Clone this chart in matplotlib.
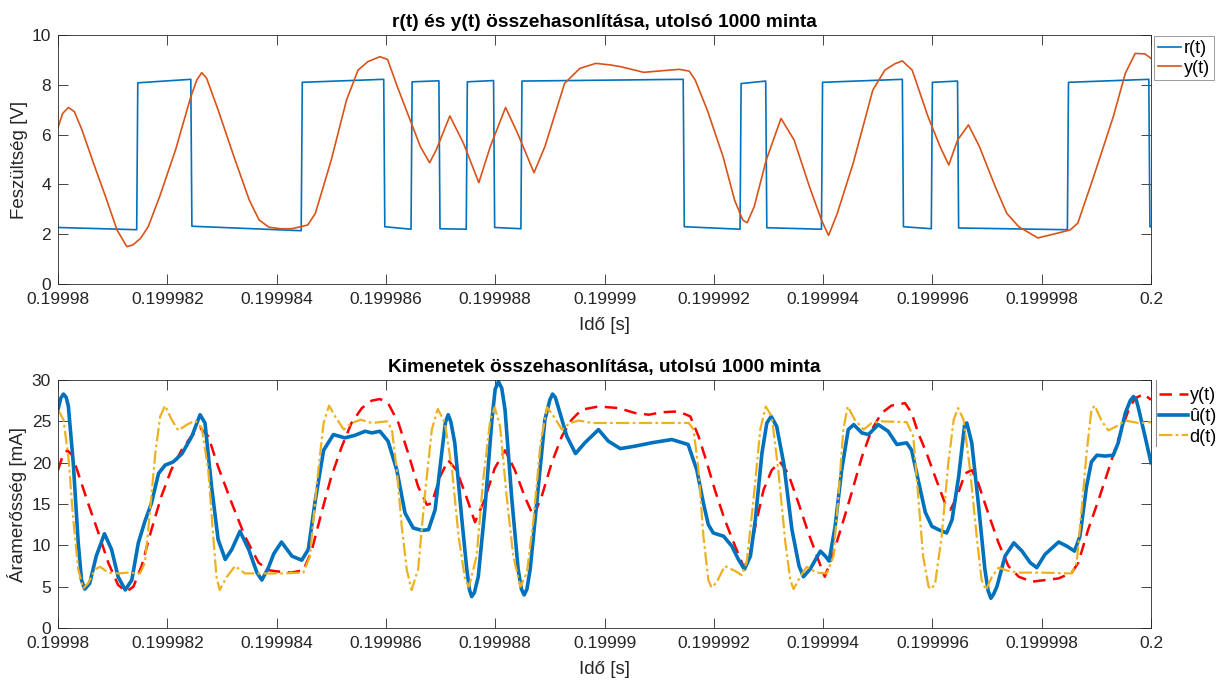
import numpy as np
import matplotlib
matplotlib.use("Agg")
import matplotlib.pyplot as plt
from matplotlib.lines import Line2D

plt.rcParams['font.family'] = ['Liberation Sans', 'DejaVu Sans']

# =========================
# DATA (time in microseconds after 0.19998 s)
# =========================
t0 = 0.19998

# top: reference r(t), square wave [V]
r_t = [0, 1.44, 1.46, 2.43, 2.45, 4.45, 4.47, 5.96, 5.98, 6.46,
       6.48, 6.97, 6.99, 7.47, 7.49, 7.97, 7.99, 8.47, 8.49, 11.44,
       11.46, 12.48, 12.50, 12.95, 12.97, 13.97, 13.99, 15.45, 15.47, 15.98,
       16.00, 16.46, 16.48, 18.47, 18.49, 19.96, 19.98, 20.0]
r_v = [2.27, 2.18, 8.08, 8.22, 2.32, 2.14, 8.1, 8.22, 2.3, 2.2,
       8.12, 8.16, 2.22, 2.2, 8.12, 8.17, 2.27, 2.22, 8.15, 8.22,
       2.3, 2.2, 8.05, 8.15, 2.26, 2.2, 8.1, 8.22, 2.3, 2.22,
       8.1, 8.15, 2.25, 2.18, 8.1, 8.22, 2.3, 2.3]

# top: measured y(t) [V]
yv_t = [0, 0.085, 0.19, 0.30, 0.44, 0.65, 0.87, 1.08, 1.26, 1.37,
        1.51, 1.65, 1.86, 2.15, 2.43, 2.54, 2.63, 2.72, 2.93, 3.22,
        3.50, 3.68, 3.86, 4.07, 4.28, 4.57, 4.71, 5.00, 5.28, 5.49,
        5.67, 5.89, 6.03, 6.21, 6.42, 6.63, 6.80, 6.92, 7.17, 7.42,
        7.70, 7.91, 8.19, 8.41, 8.71, 8.91, 9.27, 9.55, 9.84, 10.10,
        10.29, 10.72, 11.08, 11.37, 11.55, 11.66, 11.88, 12.17, 12.38, 12.53,
        12.61, 12.74, 12.96, 13.23, 13.47, 13.75, 13.97, 14.10, 14.26, 14.55,
        14.91, 15.13, 15.31, 15.45, 15.63, 15.92, 16.14, 16.30, 16.46, 16.66,
        16.86, 17.15, 17.36, 17.58, 17.93, 18.23, 18.52, 18.66, 18.95, 19.31,
        19.53, 19.71, 19.89, 20.0]
yv_v = [6.28, 6.85, 7.09, 6.92, 6.18, 4.85, 3.51, 2.17, 1.50, 1.57,
        1.83, 2.30, 3.51, 5.38, 7.52, 8.19, 8.49, 8.26, 6.99, 5.11,
        3.37, 2.57, 2.28, 2.22, 2.22, 2.37, 2.84, 4.98, 7.39, 8.59,
        8.93, 9.13, 9.02, 7.92, 6.72, 5.52, 4.87, 5.38, 6.75, 5.65,
        4.07, 5.52, 7.09, 6.05, 4.47, 5.52, 8.06, 8.66, 8.86, 8.80,
        8.73, 8.50, 8.57, 8.62, 8.55, 8.19, 6.99, 5.11, 3.37, 2.57,
        2.46, 3.11, 4.98, 6.65, 5.78, 3.91, 2.57, 1.95, 2.84, 4.85,
        7.79, 8.59, 8.84, 8.96, 8.59, 6.72, 5.52, 4.78, 5.78, 6.39,
        5.52, 3.91, 2.84, 2.30, 1.85, 2.01, 2.17, 2.44, 4.31, 6.72,
        8.46, 9.26, 9.24, 9.06]

# bottom: y(t) [mA]
ya_t = [0, 0.08, 0.17, 0.26, 0.37, 0.55, 0.74, 0.92, 1.10, 1.25,
        1.38, 1.53, 1.71, 1.89, 2.07, 2.26, 2.44, 2.60, 2.75, 2.93,
        3.18, 3.42, 3.67, 3.85, 4.00, 4.27, 4.49, 4.64, 4.82, 5.00,
        5.19, 5.37, 5.56, 5.74, 5.89, 6.04, 6.23, 6.41, 6.59, 6.75,
        6.84, 6.99, 7.14, 7.29, 7.45, 7.63, 7.81, 7.99, 8.18, 8.36,
        8.54, 8.70, 8.85, 9.03, 9.22, 9.40, 9.58, 9.89, 10.26, 10.56,
        10.81, 11.05, 11.35, 11.57, 11.72, 11.84, 12.02, 12.20, 12.39, 12.54,
        12.63, 12.76, 12.91, 13.06, 13.21, 13.36, 13.55, 13.73, 13.91, 14.03,
        14.15, 14.34, 14.52, 14.71, 14.89, 15.07, 15.25, 15.50, 15.62, 15.74,
        15.89, 16.05, 16.23, 16.33, 16.45, 16.60, 16.72, 16.84, 17.02, 17.21,
        17.39, 17.58, 17.82, 18.06, 18.31, 18.55, 18.67, 18.85, 19.04, 19.22,
        19.40, 19.59, 19.71, 19.87, 20.0]
ya_v = [19.1, 20.7, 21.5, 20.9, 18.7, 15.1, 11.5, 7.9, 5.2, 4.4,
        5.0, 7.5, 11.9, 15.9, 19.1, 21.5, 23.2, 24.2, 23.2, 19.5,
        15.1, 11.1, 7.9, 7.0, 6.85, 6.7, 7.0, 9.3, 13.9, 18.3,
        21.9, 24.8, 26.6, 27.5, 27.7, 27.2, 24.8, 21.1, 17.1, 14.9,
        15.1, 18.3, 20.3, 19.1, 16.3, 12.8, 15.6, 19.3, 21.5, 19.1,
        15.9, 13.5, 15.9, 19.9, 23.2, 25.2, 26.4, 26.8, 26.6, 26.0,
        25.8, 26.1, 26.2, 25.6, 23.2, 20.7, 16.7, 13.1, 9.9, 7.5,
        7.9, 12.3, 16.7, 19.1, 20.1, 18.7, 15.1, 11.5, 8.3, 6.2,
        8.3, 12.3, 16.3, 20.7, 24.0, 26.0, 26.9, 27.2, 26.0, 23.6,
        21.2, 18.3, 15.1, 14.3, 15.9, 18.7, 19.1, 17.5, 13.9, 10.3,
        7.5, 6.2, 5.6, 5.8, 6.0, 6.7, 7.9, 11.9, 15.5, 19.1,
        22.8, 26.4, 27.8, 28.3, 27.6]

# bottom: estimated u-hat(t) [mA]
u_t = [0, 0.05, 0.10, 0.15, 0.19, 0.28, 0.37, 0.43, 0.49, 0.58,
       0.70, 0.85, 0.98, 1.10, 1.23, 1.35, 1.47, 1.59, 1.71, 1.84,
       1.96, 2.11, 2.27, 2.45, 2.60, 2.69, 2.81, 2.93, 3.06, 3.18,
       3.33, 3.49, 3.64, 3.73, 3.85, 3.95, 4.09, 4.28, 4.46, 4.58,
       4.70, 4.86, 5.04, 5.25, 5.43, 5.62, 5.74, 5.89, 6.04, 6.20,
       6.35, 6.50, 6.66, 6.78, 6.90, 7.02, 7.09, 7.14, 7.19, 7.26,
       7.39, 7.48, 7.53, 7.57, 7.62, 7.69, 7.81, 7.94, 8.00, 8.06,
       8.12, 8.18, 8.30, 8.42, 8.48, 8.53, 8.58, 8.64, 8.79, 8.91,
       9.00, 9.05, 9.10, 9.15, 9.31, 9.47, 9.64, 9.89, 10.07, 10.29,
       10.56, 10.86, 11.23, 11.53, 11.69, 11.81, 11.90, 11.99, 12.18, 12.33,
       12.45, 12.56, 12.67, 12.76, 12.88, 12.97, 13.05, 13.15, 13.28, 13.43,
       13.56, 13.64, 13.76, 13.95, 14.04, 14.11, 14.22, 14.34, 14.46, 14.56,
       14.71, 14.83, 15.01, 15.19, 15.35, 15.53, 15.62, 15.74, 15.87, 15.99,
       16.11, 16.26, 16.36, 16.48, 16.59, 16.63, 16.72, 16.84, 16.96, 17.02,
       17.07, 17.12, 17.18, 17.33, 17.49, 17.64, 17.79, 17.91, 18.06, 18.31,
       18.46, 18.60, 18.70, 18.82, 18.91, 19.01, 19.16, 19.31, 19.40, 19.53,
       19.62, 19.68, 19.73, 19.77, 19.89, 20.0]
u_v = [26.4, 27.8, 28.3, 27.9, 26.8, 19.9, 10.3, 5.8, 4.7, 5.4,
       8.7, 11.4, 9.5, 6.2, 4.6, 5.8, 10.3, 12.9, 15.1, 18.7,
       19.7, 20.1, 21.1, 23.2, 25.8, 24.8, 17.1, 10.7, 8.3, 9.5,
       11.7, 9.5, 6.7, 5.8, 7.3, 9.0, 10.4, 8.7, 8.2, 9.5,
       15.1, 21.5, 23.4, 23.0, 23.3, 23.8, 23.6, 23.8, 22.6, 19.1,
       13.9, 12.1, 11.8, 11.9, 14.3, 21.1, 24.9, 25.8, 24.9, 22.4,
       13.1, 7.1, 4.6, 3.8, 4.3, 6.2, 14.3, 25.2, 28.9, 29.8,
       29.0, 26.4, 15.9, 7.1, 4.7, 4.0, 4.7, 7.1, 17.1, 25.2,
       27.6, 28.3, 27.9, 26.8, 23.2, 21.1, 22.4, 24.0, 22.6, 21.7,
       22.0, 22.4, 22.8, 22.2, 19.1, 15.1, 12.5, 11.5, 11.1, 9.9,
       8.3, 7.1, 8.7, 13.1, 21.1, 24.8, 25.6, 24.4, 19.9, 11.9,
       7.5, 6.2, 7.1, 9.3, 8.7, 8.1, 12.3, 19.1, 24.0, 24.6,
       23.6, 23.4, 24.6, 23.8, 22.2, 22.4, 21.5, 17.9, 14.0, 12.3,
       11.9, 11.5, 13.1, 18.3, 24.6, 24.8, 22.4, 15.1, 7.1, 4.5,
       3.6, 4.1, 5.0, 8.7, 10.3, 9.3, 7.9, 7.3, 8.9, 10.4,
       9.9, 9.3, 11.1, 17.1, 20.1, 20.9, 20.8, 20.9, 22.4, 26.0,
       27.5, 28.0, 27.6, 26.6, 23.2, 20.0]

# bottom: d(t) [mA]
d_t = [0, 0.10, 0.19, 0.28, 0.37, 0.46, 0.55, 0.68, 0.77, 0.92,
       1.10, 1.28, 1.50, 1.59, 1.68, 1.78, 1.87, 1.96, 2.08, 2.20,
       2.36, 2.51, 2.63, 2.75, 2.84, 2.90, 2.96, 3.09, 3.24, 3.42,
       3.67, 4.09, 4.49, 4.61, 4.73, 4.86, 4.96, 5.07, 5.23, 5.38,
       5.54, 5.74, 6.02, 6.11, 6.20, 6.29, 6.38, 6.47, 6.59, 6.71,
       6.84, 6.95, 7.08, 7.21, 7.33, 7.45, 7.52, 7.66, 7.78, 7.91,
       7.99, 8.09, 8.21, 8.33, 8.46, 8.58, 8.70, 8.83, 8.95, 9.07,
       9.22, 9.37, 9.53, 9.77, 10.26, 10.86, 11.54, 11.63, 11.72, 11.81,
       11.90, 11.96, 12.05, 12.20, 12.39, 12.51, 12.60, 12.72, 12.85, 12.95,
       13.06, 13.18, 13.31, 13.40, 13.46, 13.58, 13.70, 13.88, 14.07, 14.19,
       14.28, 14.37, 14.45, 14.58, 14.74, 14.89, 15.07, 15.53, 15.65, 15.74,
       15.83, 15.93, 15.98, 16.05, 16.17, 16.29, 16.39, 16.47, 16.57, 16.69,
       16.81, 16.90, 16.98, 17.09, 17.21, 17.39, 17.58, 18.00, 18.55, 18.64,
       18.73, 18.82, 18.91, 18.97, 19.10, 19.22, 19.37, 19.53, 19.77, 20.0]
d_v = [26.4, 25.2, 20.7, 13.1, 7.1, 4.8, 5.4, 7.1, 7.4, 6.7,
       6.6, 6.7, 6.6, 7.9, 13.9, 21.1, 25.6, 26.9, 25.2, 23.9,
       24.6, 25.1, 24.2, 19.1, 11.1, 6.2, 4.6, 6.2, 7.5, 6.6,
       6.6, 6.6, 6.7, 8.7, 17.1, 24.8, 26.9, 25.6, 24.0, 24.8,
       25.2, 24.8, 25.0, 24.0, 19.1, 12.3, 7.1, 4.6, 7.1, 15.9,
       24.0, 26.5, 24.8, 19.1, 11.1, 5.8, 5.0, 8.7, 17.9, 25.2,
       26.7, 24.4, 15.9, 8.7, 5.0, 6.7, 13.1, 22.4, 26.7, 25.6,
       24.0, 24.8, 25.1, 24.8, 24.8, 24.8, 24.8, 24.0, 19.1, 11.1,
       5.8, 4.9, 5.5, 7.5, 6.9, 6.4, 7.9, 15.1, 24.0, 26.8,
       25.6, 19.1, 10.3, 5.8, 4.7, 6.2, 7.4, 6.7, 6.6, 8.7,
       15.9, 24.0, 26.8, 25.2, 24.0, 24.8, 25.0, 24.9, 23.2, 15.9,
       8.7, 5.0, 4.7, 5.4, 11.1, 19.9, 25.2, 26.6, 25.2, 19.1,
       11.1, 5.8, 4.6, 6.2, 7.3, 6.9, 6.7, 6.7, 6.6, 7.9,
       14.3, 21.1, 26.4, 26.9, 25.0, 23.9, 24.4, 25.1, 24.8, 24.9]

tick_labels = ['0.19998', '0.199982', '0.199984', '0.199986', '0.199988', '0.19999',
               '0.199992', '0.199994', '0.199996', '0.199998', '0.2']


def sec(t_us):
    return t0 + np.array(t_us) * 1e-6


# =========================
# FIGURE
# =========================
W, H = 1219, 680
fig = plt.figure(figsize=(W / 100, H / 100), dpi=100)
ax1 = fig.add_axes([58 / W, 1 - 284 / H, (1151 - 58) / W, (284 - 35) / H])
ax2 = fig.add_axes([58 / W, 1 - 628 / H, (1151 - 58) / W, (628 - 380) / H])

axc = '#262626'
xticks = t0 + np.arange(len(tick_labels)) * 2e-6


def style(ax):
    ax.set_xlim(t0, 0.2)
    ax.set_xticks(xticks)
    ax.set_xticklabels(tick_labels)
    ax.tick_params(direction='in', top=True, right=True, length=7, width=0.6,
                   colors=axc, labelsize=12.5)
    ax.tick_params(axis='x', pad=6)
    ax.tick_params(axis='y', pad=5)
    for s in ax.spines.values():
        s.set_color(axc)
        s.set_linewidth(0.6)


kw = dict(solid_joinstyle='round', dash_joinstyle='round')

# top plot
ax1.plot(sec(r_t), r_v, color='#0072BD', lw=1.2, label='r(t)', **kw)
ax1.plot(sec(yv_t), yv_v, color='#D95319', lw=1.2, label='y(t)', **kw)
style(ax1)
ax1.set_ylim(0, 10)
ax1.set_yticks([0, 2, 4, 6, 8, 10])
ax1.set_title('r(t) és y(t) összehasonlítása, utolsó 1000 minta',
              fontsize=13.8, fontweight='bold', pad=6)
ax1.set_ylabel('Feszültség [V]', fontsize=13.5, color=axc, labelpad=3)
ax1.set_xlabel('Idő [s]', fontsize=13.5, color=axc, labelpad=7)
leg1 = ax1.legend(loc='upper left', bbox_to_anchor=(1.003, 0.995), borderaxespad=0,
                  fontsize=13, handlelength=1.3, handletextpad=0.15,
                  borderpad=0.2, labelspacing=0.15, fancybox=False, framealpha=1)
leg1.get_frame().set_edgecolor('#8c8c8c')
leg1.get_frame().set_linewidth(0.6)

# bottom plot
ax2.plot(sec(ya_t), ya_v, color='#FF0000', lw=1.8, dashes=(5, 3), label='y(t)', **kw)
ax2.plot(sec(u_t), u_v, color='#0072BD', lw=2.6, label='û(t)', **kw)
ax2.plot(sec(d_t), d_v, color='#EDB120', lw=1.6, dashes=(6, 1.5, 1.2, 1.5), label='d(t)', **kw)
style(ax2)
ax2.set_ylim(0, 30)
ax2.set_yticks([0, 5, 10, 15, 20, 25, 30])
ax2.set_title('Kimenetek összehasonlítása, utolsú 1000 minta',
              fontsize=13.8, fontweight='bold', pad=6)
ax2.set_ylabel('Áramerősség [mA]', fontsize=13.5, color=axc, labelpad=3)
ax2.set_xlabel('Idő [s]', fontsize=13.5, color=axc, labelpad=7)
leg2 = ax2.legend(loc='upper left', bbox_to_anchor=(1.004, 0.985), borderaxespad=0,
                  fontsize=13, handlelength=1.6, handletextpad=0.1,
                  borderpad=0.2, labelspacing=0.2, frameon=False)
fig.add_artist(Line2D([1156 / W, 1156 / W], [1 - 380 / H, 1 - 446 / H],
                      color='#8c8c8c', lw=0.8))

fig.savefig('out.png', dpi=100)
